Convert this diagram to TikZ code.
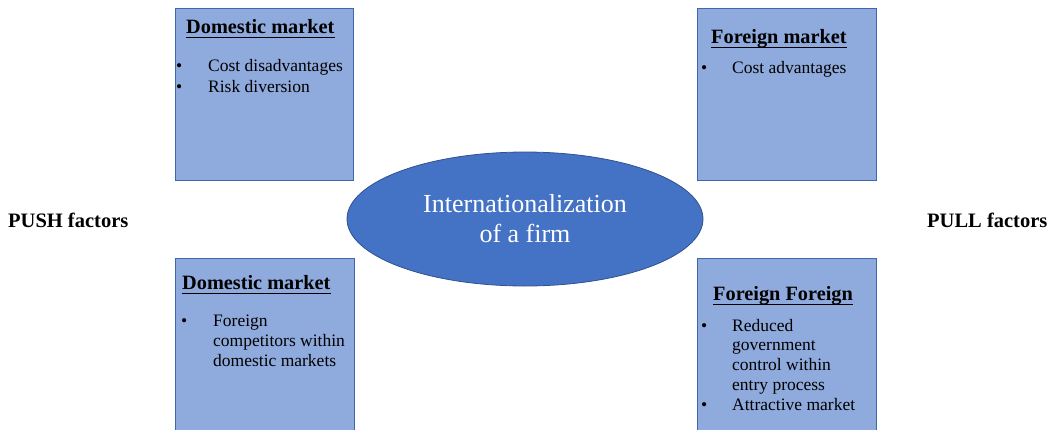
\documentclass[tikz,border=0pt]{standalone}
\usepackage{fontspec}
\setmainfont{Liberation Serif}
\usetikzlibrary{shapes.geometric}
\definecolor{boxfill}{HTML}{8FAADC}
\definecolor{boxline}{HTML}{3F66B0}
\definecolor{ovalfill}{HTML}{4472C4}
\definecolor{ovalline}{HTML}{2F528F}
\tikzset{
  panel/.style={draw=boxline, line width=0.9pt, fill=boxfill},
  heading/.style={anchor=base west, inner sep=0pt, font=\fontsize{20.3}{24}\selectfont\bfseries},
  bulletmark/.style={anchor=base west, inner sep=0pt, font=\fontsize{17.5}{20}\selectfont},
  itemtext/.style={anchor=base west, inner sep=0pt, font=\fontsize{17.5}{20}\selectfont},
  side/.style={anchor=base west, inner sep=0pt, font=\fontsize{20.5}{24}\selectfont\bfseries},
  underbar/.style={line width=1.6pt, line cap=butt}
}
\begin{document}
\begin{tikzpicture}[x=1pt, y=-1pt]
  \useasboundingbox (0,0) rectangle (1047,429);
  \clip (0,0) rectangle (1047,429);

  % four factor panels
  \draw[panel] (175,8) rectangle (353,180);
  \draw[panel] (697,8) rectangle (876,180);
  \draw[panel] (175,258) rectangle (354,440);
  \draw[panel] (697,258) rectangle (876,440);

  % central oval
  \node (core) [ellipse, draw=ovalline, line width=0.8pt, fill=ovalfill,
        minimum width=356pt, minimum height=134pt, inner sep=0pt,
        text=white, align=center, font=\fontsize{26}{30}\selectfont]
        at (525,219) {Internationalization\\of a firm};

  % side labels
  \node (push) [side] at (8,227) {PUSH factors};
  \node (pull) [side] at (927,227) {PULL factors};

  % top-left panel
  \node (h1) [heading] at (186,33) {Domestic market};
  \draw[underbar] ([yshift=-4.5pt]h1.base west) -- ([yshift=-4.5pt]h1.base east);
  \node (b1a) [bulletmark] at (176,71) {•};
  \node (t1a) [itemtext] at (208,71) {Cost disadvantages};
  \node (b1b) [bulletmark] at (176,92) {•};
  \node (t1b) [itemtext] at (208,92) {Risk diversion};

  % top-right panel
  \node (h2) [heading] at (711,43) {Foreign market};
  \draw[underbar] ([yshift=-4.5pt]h2.base west) -- ([yshift=-4.5pt]h2.base east);
  \node (b2a) [bulletmark] at (701,73) {•};
  \node (t2a) [itemtext] at (732,73) {Cost advantages};

  % bottom-left panel
  \node (h3) [heading] at (182,289) {Domestic market};
  \draw[underbar] ([yshift=-4.5pt]h3.base west) -- ([yshift=-4.5pt]h3.base east);
  \node (b3a) [bulletmark] at (181,326) {•};
  \node (t3a) [itemtext] at (213,326) {Foreign};
  \node (t3b) [itemtext] at (213,346) {competitors within};
  \node (t3c) [itemtext] at (213,366) {domestic markets};

  % bottom-right panel
  \node (h4) [heading] at (713,300) {Foreign Foreign};
  \draw[underbar] ([yshift=-4.5pt]h4.base west) -- ([yshift=-4.5pt]h4.base east);
  \node (b4a) [bulletmark] at (701,331) {•};
  \node (t4a) [itemtext] at (732,331) {Reduced};
  \node (t4b) [itemtext] at (732,350) {government};
  \node (t4c) [itemtext] at (732,370) {control within};
  \node (t4d) [itemtext] at (732,390) {entry process};
  \node (b4b) [bulletmark] at (701,410) {•};
  \node (t4e) [itemtext] at (732,410) {Attractive market};
\end{tikzpicture}
\end{document}
